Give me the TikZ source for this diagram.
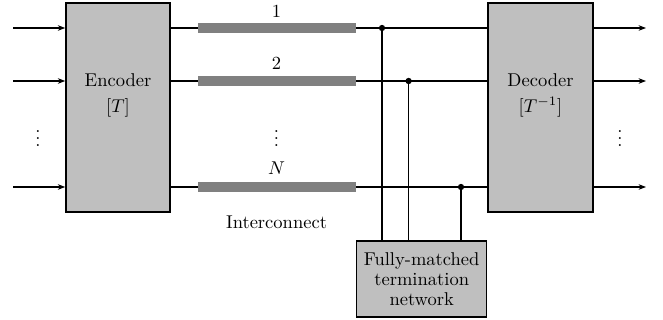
\documentclass[tikz,border=0pt]{standalone}
\usetikzlibrary{arrows.meta}
\begin{document}
\begin{tikzpicture}[x=0.54pt,y=-0.54pt,
  blk/.style={draw, line width=0.8pt, fill=lightgray, inner sep=0pt, align=center},
  bar/.style={fill=gray, draw=none, minimum width=85.3pt, minimum height=5.8pt, inner sep=0pt},
  wire/.style={line width=0.6pt},
  arr/.style={wire, -{Stealth[length=4pt,width=3pt]}},
  dot/.style={circle, fill=black, inner sep=0pt, minimum size=3.4pt}]
\useasboundingbox (0,0) rectangle (663,320);
% blocks
\node[blk, minimum width=56.2pt, minimum height=112.9pt] (enc) at (118,107.5) {};
\node[align=center] (enctxt) at (118,95) {Encoder\\[2pt]$[T]$};
\node[blk, minimum width=56.7pt, minimum height=112.9pt] (dec) at (540.5,107.5) {};
\node[align=center] (dectxt) at (540.5,95) {Decoder\\[2pt]$[T^{-1}]$};
\node[blk, minimum width=70.2pt, minimum height=41pt, text width=68pt, font=\linespread{0.9}\selectfont] (term) at (421.7,279) {Fully-matched\\termination\\network};
% inputs
\coordinate (i1) at (13,28);
\coordinate (i2) at (13,81);
\coordinate (iN) at (13,187);
\draw[arr] (i1) -- (enc.west |- i1);
\draw[arr] (i2) -- (enc.west |- i2);
\draw[arr] (iN) -- (enc.west |- iN);
% outputs
\coordinate (o1) at (646,28);
\coordinate (o2) at (646,81);
\coordinate (oN) at (646,187);
\draw[arr] (dec.east |- o1) -- (o1);
\draw[arr] (dec.east |- o2) -- (o2);
\draw[arr] (dec.east |- oN) -- (oN);
% bars
\node[bar] (b1) at (277,28) {};
\node[bar] (b2) at (277,81) {};
\node[bar] (bN) at (277,187) {};
\node (l1) at (276.5,12) {$1$};
\node (l2) at (276.5,64) {$2$};
\node (lN) at (276.5,168) {$N$};
\node (ld) at (276.5,133) {$\vdots$};
\node (ldl) at (38,133) {$\vdots$};
\node (ldr) at (620,133) {$\vdots$};
\node (ic) at (276.5,222) {Interconnect};
% wires
\draw[wire] (enc.east |- b1) -- (b1.west);
\draw[wire] (enc.east |- b2) -- (b2.west);
\draw[wire] (enc.east |- bN) -- (bN.west);
\draw[wire] (b1.east) -- (dec.west |- b1);
\draw[wire] (b2.east) -- (dec.west |- b2);
\draw[wire] (bN.east) -- (dec.west |- bN);
% taps
\node[dot] (d1) at (382,28) {};
\node[dot] (d2) at (408.6,81) {};
\node[dot] (dN) at (461,187) {};
\draw[wire] (d1.center) -- (d1.center |- term.north);
\draw[wire] (d2.center) -- (d2.center |- term.north);
\draw[wire] (dN.center) -- (dN.center |- term.north);
\end{tikzpicture}
\end{document}
